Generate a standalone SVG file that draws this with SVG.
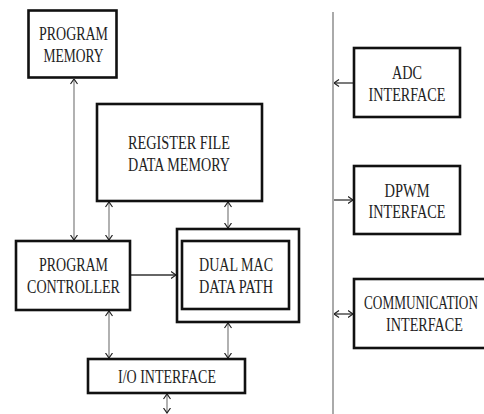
<svg xmlns="http://www.w3.org/2000/svg" width="484" height="414" viewBox="0 0 484 414">
<style>
.box{fill:#fff;stroke:#111;stroke-width:2.6}
.t{font-family:"Liberation Serif","Times New Roman",serif;font-size:18px;fill:#222;text-anchor:middle}
.c{fill:none;stroke:#888;stroke-width:1.3}
.h{fill:none;stroke:#333;stroke-width:1.3}
</style>
<defs>
<marker id="a" viewBox="0 0 6 8" refX="5.5" refY="4" markerWidth="6" markerHeight="8" markerUnits="userSpaceOnUse" orient="auto-start-reverse">
<path d="M0.5,0.5 L5.5,4 L0.5,7.5" fill="none" stroke="#222" stroke-width="1.2"/>
</marker>
</defs>
<rect x="0" y="0" width="484" height="414" fill="#fff"/>
<line x1="333" y1="12" x2="333" y2="414" stroke="#aaa" stroke-width="2"/>
<g id="connectors">
<line class="c" x1="74" y1="79" x2="74" y2="240" marker-start="url(#a)" marker-end="url(#a)"/>
<line class="c" x1="109" y1="202" x2="109" y2="240" marker-start="url(#a)" marker-end="url(#a)"/>
<line class="c" x1="228" y1="202" x2="228" y2="228" marker-start="url(#a)" marker-end="url(#a)"/>
<line class="h" x1="131" y1="275" x2="176" y2="275" marker-end="url(#a)"/>
<line class="c" x1="109" y1="311" x2="109" y2="358" marker-start="url(#a)" marker-end="url(#a)"/>
<line class="c" x1="228" y1="323" x2="228" y2="358" marker-start="url(#a)" marker-end="url(#a)"/>
<line class="c" x1="167" y1="394" x2="167" y2="413" marker-start="url(#a)" marker-end="url(#a)"/>
<line class="h" x1="353" y1="83" x2="334" y2="83" marker-end="url(#a)"/>
<line class="h" x1="334" y1="200" x2="353" y2="200" marker-end="url(#a)"/>
<line class="h" x1="334" y1="314" x2="353" y2="314" marker-start="url(#a)" marker-end="url(#a)"/>
</g>
<g id="program-memory">
<rect class="box" x="28.5" y="10.5" width="88" height="67"/>
<text class="t" x="73.5" y="40" textLength="69" lengthAdjust="spacingAndGlyphs">PROGRAM</text>
<text class="t" x="73.5" y="62" textLength="60" lengthAdjust="spacingAndGlyphs">MEMORY</text>
</g>
<g id="register-file">
<rect class="box" x="97" y="104" width="165" height="97"/>
<text class="t" x="179" y="149" textLength="102" lengthAdjust="spacingAndGlyphs">REGISTER FILE</text>
<text class="t" x="179" y="171" textLength="102" lengthAdjust="spacingAndGlyphs">DATA MEMORY</text>
</g>
<g id="program-controller">
<rect class="box" x="16" y="241" width="114" height="69"/>
<text class="t" x="73.5" y="271" textLength="69" lengthAdjust="spacingAndGlyphs">PROGRAM</text>
<text class="t" x="73.5" y="293" textLength="93" lengthAdjust="spacingAndGlyphs">CONTROLLER</text>
</g>
<g id="dual-mac">
<rect class="box" x="177" y="229" width="122" height="93"/>
<rect class="box" x="182" y="241" width="107" height="68"/>
<text class="t" x="236" y="271" textLength="74" lengthAdjust="spacingAndGlyphs">DUAL MAC</text>
<text class="t" x="236" y="293" textLength="74" lengthAdjust="spacingAndGlyphs">DATA PATH</text>
</g>
<g id="io-interface">
<rect class="box" x="88" y="359" width="157" height="34"/>
<text class="t" x="167" y="383" textLength="98" lengthAdjust="spacingAndGlyphs">I/O INTERFACE</text>
</g>
<g id="adc-interface">
<rect class="box" x="354" y="48" width="106" height="69"/>
<text class="t" x="407" y="79" textLength="30" lengthAdjust="spacingAndGlyphs">ADC</text>
<text class="t" x="407" y="101" textLength="77" lengthAdjust="spacingAndGlyphs">INTERFACE</text>
</g>
<g id="dpwm-interface">
<rect class="box" x="354" y="166" width="106" height="68"/>
<text class="t" x="407" y="197" textLength="45" lengthAdjust="spacingAndGlyphs">DPWM</text>
<text class="t" x="407" y="218" textLength="77" lengthAdjust="spacingAndGlyphs">INTERFACE</text>
</g>
<g id="communication-interface">
<rect class="box" x="354" y="279" width="140" height="69"/>
<text class="t" x="421" y="309" textLength="114" lengthAdjust="spacingAndGlyphs">COMMUNICATION</text>
<text class="t" x="424.5" y="331" textLength="77" lengthAdjust="spacingAndGlyphs">INTERFACE</text>
</g>
</svg>
